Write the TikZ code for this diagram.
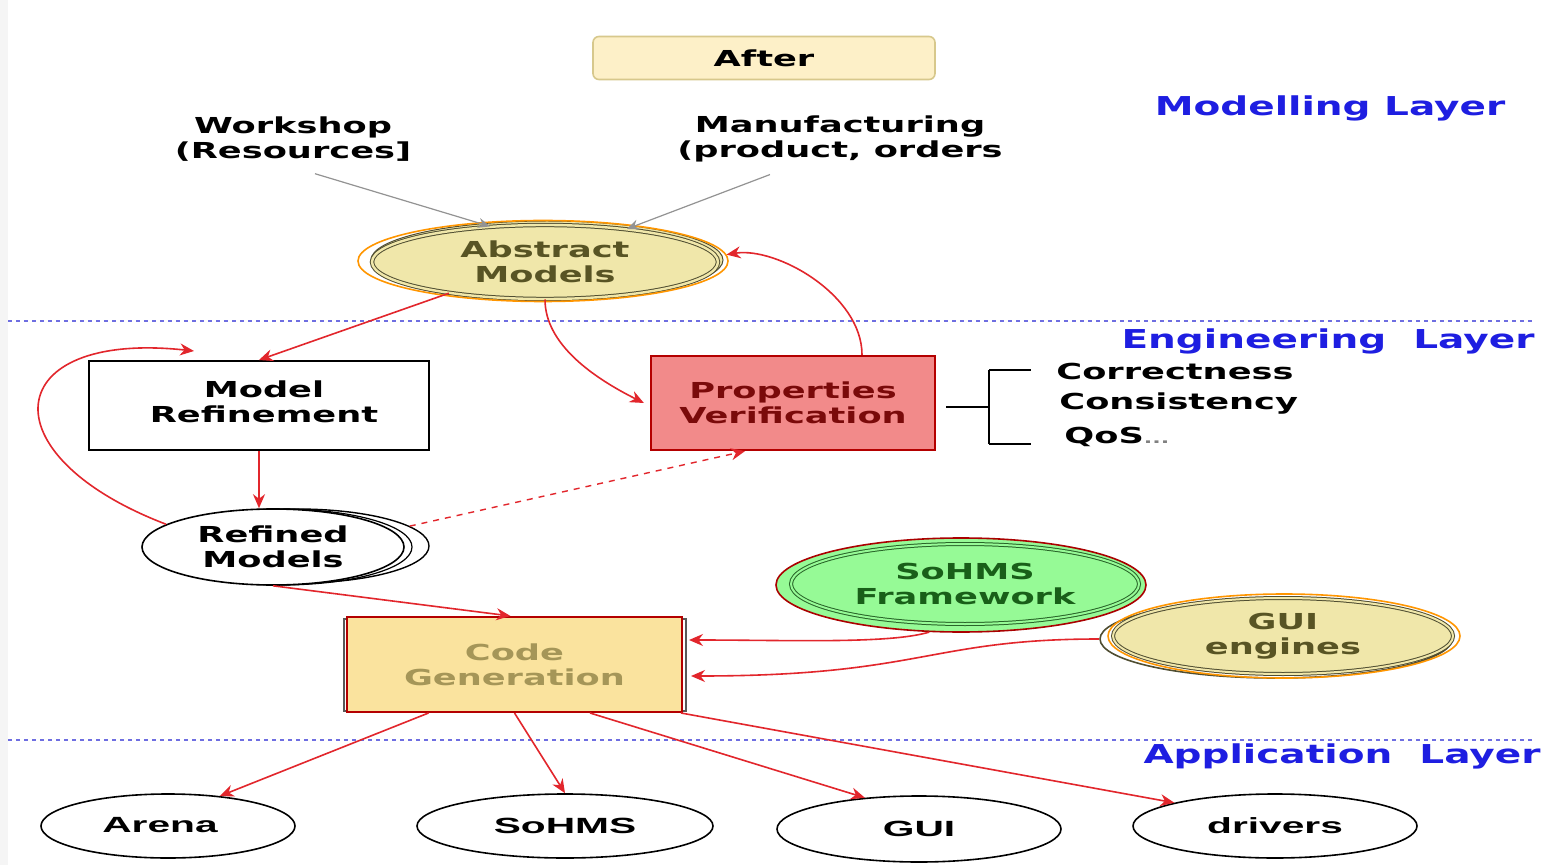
\documentclass[tikz,border=0pt]{standalone}
\usepackage{fontspec}
\setmainfont{DejaVu Sans}
\newfontfamily\wf[FakeStretch=1.6]{DejaVu Sans}
\newfontfamily\lf[FakeStretch=1.5]{DejaVu Sans}
\newfontfamily\nf[FakeStretch=1.85]{Liberation Sans}
\usetikzlibrary{shapes.geometric,arrows.meta,calc}
\definecolor{myred}{RGB}{226,38,44}
\definecolor{dashblue}{RGB}{110,110,225}
\definecolor{layerblue}{RGB}{30,30,225}
\definecolor{abfill}{RGB}{240,231,170}
\definecolor{abtext}{RGB}{88,84,36}
\definecolor{abline}{RGB}{80,78,50}
\definecolor{myorange}{RGB}{255,150,0}
\definecolor{pvfill}{RGB}{242,138,138}
\definecolor{pvline}{RGB}{180,0,0}
\definecolor{pvtext}{RGB}{122,10,10}
\definecolor{cgfill}{RGB}{250,227,158}
\definecolor{cgtext}{RGB}{165,150,88}
\definecolor{shfill}{RGB}{150,250,150}
\definecolor{shline}{RGB}{170,0,0}
\definecolor{shinner}{RGB}{40,100,40}
\definecolor{shtext}{RGB}{25,95,25}
\definecolor{afterfill}{RGB}{253,240,200}
\definecolor{afterline}{RGB}{215,200,140}
\begin{document}
\begin{tikzpicture}[x=0.5pt,y=-0.5pt,
  lbl/.style={font=\wf\bfseries\fontsize{11}{12.5}\selectfont, align=center, inner sep=0pt},
  nlbl/.style={font=\nf\bfseries\fontsize{11}{13}\selectfont, align=center, inner sep=0pt},
  layer/.style={font=\lf\bfseries\fontsize{13}{15}\selectfont, text=layerblue, inner sep=0pt},
  rarr/.style={draw=myred, line width=0.8pt, -{Stealth[length=7pt,width=6pt]}},
  garr/.style={draw=gray!85, line width=0.6pt, -{Stealth[length=6pt,width=5pt]}},
  layerline/.style={draw=dashblue, line width=0.9pt, dash pattern=on 2pt off 2pt},
  ell/.style={ellipse, inner sep=0pt},
  appell/.style={ellipse, draw=black, line width=0.8pt, fill=white, inner sep=0pt, minimum width=127pt, minimum height=32pt}
]
\useasboundingbox (0,0) rectangle (1545,865);
\fill[white] (0,0) rectangle (1545,865);
\fill[gray!8] (0,0) rectangle (8,865);

% layer separators
\draw[layerline] (8,321) -- (1535,321);
\draw[layerline] (8,740) -- (1535,740);

% layer labels
\node[layer] (ml) at (1330,108) {Modelling Layer};
\node[layer] (el) at (1328,341) {Engineering\ \ Layer};
\node[layer] (al) at (1342,756) {Application\ \ Layer};

% After box
\node[draw=afterline, fill=afterfill, rounded corners=3pt, line width=0.8pt,
      minimum width=171pt, minimum height=21.5pt, lbl] (after) at (764,58) {After};

% inputs
\node[lbl] (ws) at (293,139) {Workshop\\(Resources]};
\node[lbl] (mf) at (840,139) {Manufacturing\\(product, orders};

% Abstract models
\node[ell, fill=abfill, draw=abline, line width=0.5pt, minimum width=176pt, minimum height=39pt] (absb) at (547,260) {};
\node[ell, fill=abfill, draw=abline, line width=0.5pt, double=abfill, double distance=1.2pt,
      minimum width=173pt, minimum height=37pt, lbl, text=abtext] (abs) at (545,262) {Abstract\\Models};
\node[ell, draw=myorange, line width=0.8pt, minimum width=185pt, minimum height=40.5pt] (abso) at (543,261) {};

% Model refinement
\node[draw=black, line width=1pt, fill=white, minimum width=170pt, minimum height=44.5pt] (mr) at (259,405.5) {};
\node[lbl] (mrt) at (264,402) {Model\\Refinement};

% Properties verification
\node[draw=pvline, line width=1.1pt, fill=pvfill, minimum width=142pt, minimum height=47pt, lbl, text=pvtext] (pv) at (793,403) {Properties\\Verification};

% bracket
\coordinate (br) at ($(pv.east)+(5pt,-2pt)$);
\draw[line width=1pt] (br) -- ++(43,0) coordinate (brm);
\draw[line width=1pt] ($(brm)+(0,-37)$) -- ($(brm)+(0,37)$);
\draw[line width=1pt] ($(brm)+(0,-37)$) -- ++(42,0);
\draw[line width=1pt] ($(brm)+(0,37)$) -- ++(42,0);
\node[lbl, anchor=west] (c1) at (1056,371) {Correctness};
\node[lbl, anchor=west] (c2) at (1059,404) {Consistency};
\node[lbl, anchor=west] (c3) at (1064,437) {QoS{\color{gray}\fontsize{7}{8}\selectfont...}};

% Refined models
\node[ell, fill=white, draw=black, line width=0.7pt, minimum width=132pt, minimum height=37pt] (rm2) at (297,546) {};
\node[ell, draw=black, line width=0.6pt, minimum width=131pt, minimum height=38pt] (rm3) at (281,547) {};
\node[ell, fill=white, draw=black, line width=0.8pt, minimum width=131pt, minimum height=38pt, lbl] (rm) at (273,547) {Refined\\Models};

% Code generation
\draw[draw=gray!70!black, line width=1.2pt] (344,619) rectangle (686,711);
\node[draw=pvline, line width=1pt, fill=cgfill, minimum width=167.5pt, minimum height=47.5pt, lbl, text=cgtext] (cg) at (514.5,664.5) {Code\\Generation};

% SoHMS framework
\node[ell, fill=shfill, draw=shline, line width=0.8pt, minimum width=185pt, minimum height=47pt] (sh) at (961,585) {};
\node[ell, draw=shinner, line width=0.5pt, double=shfill, double distance=1pt, minimum width=174pt, minimum height=40pt, lbl, text=shtext] (shi) at (965,584) {SoHMS\\Framework};

% GUI engines
\node[ell, fill=white, draw=abline, line width=0.8pt, minimum width=176pt, minimum height=39pt] (guib) at (1276,639) {};
\node[ell, fill=abfill, draw=abline, line width=0.5pt, double=abfill, double distance=1pt, minimum width=170pt, minimum height=38pt, lbl, text=abtext] (gui) at (1283,636) {GUI\\engines};
\node[ell, draw=myorange, line width=0.8pt, minimum width=176pt, minimum height=42pt] (guio) at (1284,636) {};

% application nodes
\node[appell] (arena) at (168,826) {};
\node[nlbl] (arenat) at (160,825) {Arena};
\node[appell, nlbl, minimum width=148pt] (sohms) at (565,826) {SoHMS};
\node[appell, nlbl, minimum width=142pt, minimum height=33pt] (guiapp) at (919,829) {GUI};
\node[appell, nlbl, minimum width=142pt] (drv) at (1275,826) {drivers};

% gray input arrows
\draw[garr] ([xshift=11pt,yshift=-6pt]ws.south) -- (abs.147);
\draw[garr] ([xshift=-35pt,yshift=-6pt]mf.south) -- (abs.22);

% red arrows
\draw[rarr] (abs.198) -- (mr.north);
\draw[rarr] (abs.south) .. controls +(0,45) and +(-50,-25) .. ([xshift=-3pt]pv.west);
\draw[rarr] ([xshift=34.5pt]pv.north) .. controls +(0,-60) and +(50,-8) .. (abso.2);
\draw[rarr] (mr.south) -- (mr.south |- rm.north);
\draw[rarr] (rm.168) .. controls (-15,455) and (0,330) .. ([xshift=53pt,yshift=4.5pt]mr.north west);
\draw[myred, line width=0.7pt, dashed, -{Stealth[length=7pt,width=6pt]}] (rm2.10) -- ([xshift=-24pt]pv.south);
\draw[rarr] (rm.south) -- ([xshift=-2pt]cg.north);
\draw[rarr] (sh.236) .. controls +(-40,12) and +(100,0) .. ([xshift=3pt,yshift=12.25pt]cg.east);
\draw[rarr] (guib.west) .. controls +(-170,0) and +(230,0) .. ([xshift=4pt,yshift=-5.75pt]cg.east);
\draw[rarr] ([xshift=-43pt]cg.south) -- (arena.30);
\draw[rarr] (cg.south) -- (sohms.north);
\draw[rarr] ([xshift=37.75pt]cg.south) -- (guiapp.150);
\draw[rarr] ([xshift=-1pt]cg.south east) -- (drv.167);
\end{tikzpicture}
\end{document}
